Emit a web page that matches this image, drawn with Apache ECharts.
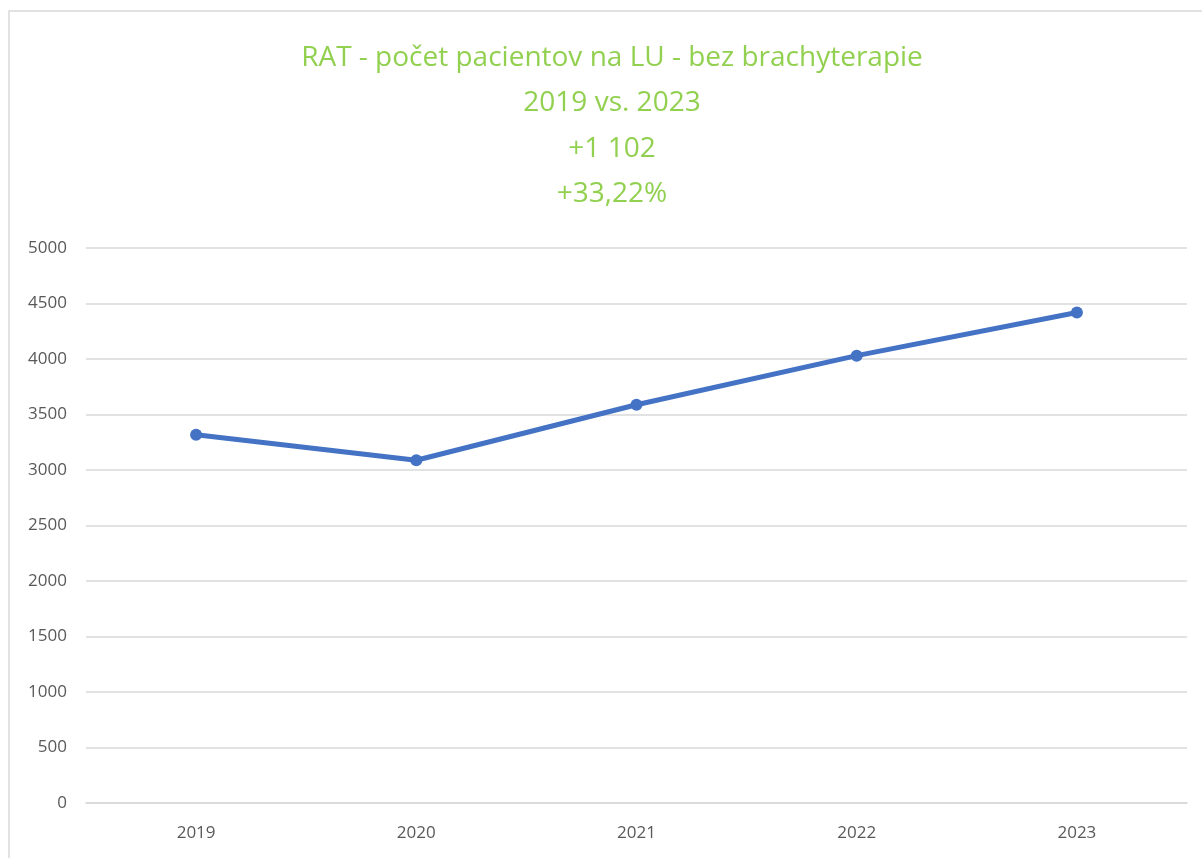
<!DOCTYPE html>
<html>
<head>
<meta charset="utf-8">
<script src="https://cdn.jsdelivr.net/npm/echarts@6/dist/echarts.min.js"></script>
<style>
  html, body { margin: 0; padding: 0; background: #fff; }
  #chart { width: 1202px; height: 858px; }
</style>
</head>
<body>
<div id="chart"></div>
<script>
// data
const years = ['2019', '2020', '2021', '2022', '2023'];
const patients = [3317, 3088, 3588, 4030, 4419];
const titleLines = ['RAT - počet pacientov na LU - bez brachyterapie', '2019 vs. 2023', '+1 102', '+33,22%'];

const myChart = echarts.init(document.getElementById('chart'));
const option = {
  backgroundColor: '#fff',
  animation: false,
  graphic: [
    {
      type: 'rect',
      shape: { x: 9, y: 11, width: 1240, height: 900 },
      style: { fill: 'none', stroke: '#d9d9d9', lineWidth: 1.5 },
      silent: true
    }
  ],
  title: {
    text: titleLines.join('\n'),
    left: 607,
    textAlign: 'center',
    top: 30,
    textStyle: {
      color: '#92d050',
      fontFamily: 'Open Sans',
      fontSize: 28,
      fontWeight: 'normal',
      lineHeight: 45.5
    }
  },
  grid: {
    left: 86,
    right: 15,
    top: 248,
    bottom: 55
  },
  xAxis: {
    type: 'category',
    data: years,
    boundaryGap: true,
    axisTick: { show: false },
    axisLine: { show: true, lineStyle: { color: '#d9d9d9', width: 1.5 } },
    axisLabel: {
      color: '#595959',
      fontSize: 17,
      fontFamily: 'Open Sans',
      margin: 22
    }
  },
  yAxis: {
    type: 'value',
    min: 0,
    max: 5000,
    interval: 500,
    axisLine: { show: false },
    axisTick: { show: false },
    axisLabel: {
      color: '#595959',
      fontSize: 17,
      fontFamily: 'Open Sans',
      margin: 19,
      formatter: (v) => String(v)
    },
    splitLine: { lineStyle: { color: '#d9d9d9', width: 1.5 } }
  },
  series: [
    {
      name: 'RAT',
      type: 'line',
      data: patients,
      symbol: 'circle',
      symbolSize: 12,
      lineStyle: { color: '#4472c4', width: 5 },
      itemStyle: { color: '#4472c4' }
    }
  ]
};
myChart.setOption(option);
window.addEventListener('resize', () => { myChart.resize(); });
</script>
</body>
</html>
